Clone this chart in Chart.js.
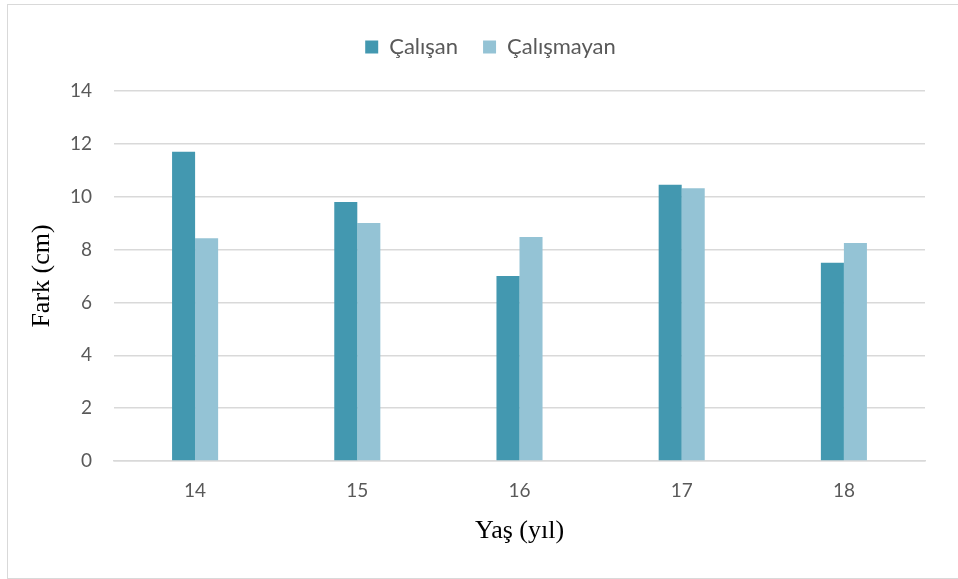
<!DOCTYPE html>
<html>
<head>
<meta charset="utf-8">
<script src="https://cdn.jsdelivr.net/npm/chart.js@4.4.0/dist/chart.umd.min.js"></script>
<style>
  html, body { margin: 0; padding: 0; background: #fff; overflow: hidden; }
  #wrap { position: relative; width: 958px; height: 579px; }
  #frame {
    position: absolute; left: 7px; top: 4px; width: 980px; height: 573px;
    border: 1px solid #d9d9d9; pointer-events: none;
  }
</style>
</head>
<body>
<div id="wrap">
  <canvas id="chart" width="958" height="579"></canvas>
  <div id="frame"></div>
</div>
<script>
// yaş grupları
const ages = ["14", "15", "16", "17", "18"];
const calisan = [11.7, 9.8, 7.0, 10.45, 7.5];
const calismayan = [8.43, 9.01, 8.48, 10.32, 8.25];
const yTicks = [0, 2, 4, 6, 8, 10, 12, 14];

const tickFont = { family: "Lato", size: 19 };
const legendFont = { family: "Lato", size: 22 };
const titleFont = { family: "Liberation Serif", size: 26 };

// legend sits a bit right of and above where chart.js puts it
const moveLegend = {
  id: "moveLegend",
  afterLayout(chart) {
    const lg = chart.legend;
    lg.left += 28;
    lg.right += 28;
    lg.top -= 23;
    lg.bottom -= 23;
  }
};

var ctx = document.getElementById("chart").getContext("2d");

const data = {
  labels: ages,
  datasets: [
    {
      label: "Çalışan",
      data: calisan,
      backgroundColor: "#4398b0"
    },
    {
      label: "Çalışmayan",
      data: calismayan,
      backgroundColor: "#94c3d5"
    }
  ]
};

const options = {
  responsive: false,
  animation: false,
  layout: {
    padding: { left: 0, right: 33, top: 34, bottom: 0 }
  },
  datasets: {
    bar: { categoryPercentage: 0.284, barPercentage: 1.0 }
  },
  plugins: {
    legend: {
      position: "top",
      labels: {
        boxWidth: 13,
        boxHeight: 13,
        padding: 25,
        color: "#595959",
        font: legendFont
      }
    },
    tooltip: { enabled: false }
  },
  scales: {
    x: {
      grid: { display: false, drawTicks: false },
      border: { color: "#d9d9d9", width: 1.5 },
      ticks: { color: "#595959", font: tickFont, padding: 18 },
      title: {
        display: true,
        text: "Yaş (yıl)",
        color: "#000",
        font: titleFont,
        padding: { top: 0, bottom: 32 }
      },
      afterFit: (scale) => { scale.height = 118; }
    },
    y: {
      min: 0,
      max: 14,
      afterBuildTicks: (scale) => {
        scale.ticks = yTicks.map((v) => ({ value: v }));
      },
      grid: { color: "#d9d9d9", lineWidth: 1.5, drawTicks: false },
      border: { display: false },
      ticks: { color: "#595959", font: tickFont, padding: 22 },
      title: {
        display: true,
        text: "Fark (cm)",
        color: "#000",
        font: titleFont,
        padding: { top: 27, bottom: 0 }
      },
      afterFit: (scale) => { scale.width = 114; }
    }
  }
};

new Chart(ctx, {
  type: "bar",
  data,
  options,
  plugins: [moveLegend]
});
</script>
</body>
</html>
